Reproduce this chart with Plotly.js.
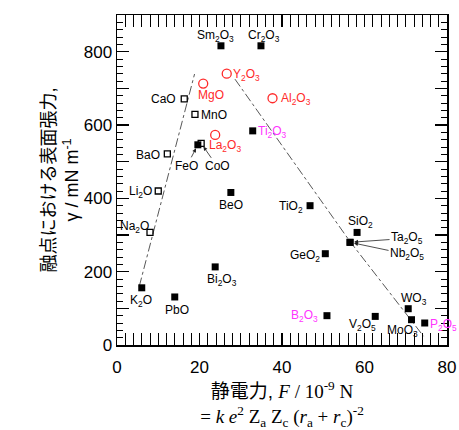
<!DOCTYPE html>
<html>
<head>
<meta charset="utf-8">
<script src="https://cdn.plot.ly/plotly-3.0.1.min.js"></script>
<style>html,body{margin:0;padding:0;background:#fff;}#chart{width:459px;height:430px;}</style>
</head>
<body>
<div id="chart"></div>
<script>
// ---- data ----
const oxides = ['Sm2O3','Cr2O3','Y2O3','MgO','CaO','MnO','Al2O3','Ti2O3','La2O3','FeO','CoO','BaO','Li2O','BeO','Na2O','TiO2','SiO2','Ta2O5','Nb2O5','GeO2','Bi2O3','K2O','PbO','B2O3','V2O5','WO3','MoO3','P2O5'];
const forceF = [25.2,34.9,26.6,20.9,16.3,18.9,37.7,32.9,23.8,19.6,20.4,12.2,10.0,27.6,8.0,46.8,58.2,56.5,56.5,50.5,23.8,6.0,14.0,50.9,62.6,70.6,71.4,74.6];
const gamma  = [816,816,740,713,671,629,673,584,573,546,550,521,420,416,307,380,307,280,280,249,213,156,131,80,78,99,69,60];
const kind   = ['filled','filled','circle','circle','open','open','circle','filled','circle','filled','open','open','open','filled','open','filled','filled','filled','filled','filled','filled','filled','filled','filled','filled','filled','filled','filled'];
const redLabels = ['Y2O3','MgO','Al2O3','La2O3'];
const magentaLabels = ['Ti2O3','B2O3','P2O5'];
const arrowLabels = ['FeO','CoO','Ta2O5','Nb2O5'];
// guide lines (dash-dot)
const leftLineF = [5.4, 18.8];
const leftLineG = [160, 739];
const rightLineF = [28.6, 56.5, 74.3];
const rightLineG = [725, 282, 24];
// axis ticks
const yTickVals = [0,200,400,600,800];
const xTickVals = [0,20,40,60,80];

// ---- label placement (screen px offsets from point centre) ----
const labelOffset = {
  'Sm2O3':[-5,-10],'Cr2O3':[3,-10],'Y2O3':[20,1],'MgO':[8,11],'CaO':[-21,0],'MnO':[19,1],
  'Al2O3':[23,1],'Ti2O3':[20,1],'La2O3':[10,11],'FeO':[-11,21],'CoO':[16,23],'BaO':[-19,1],
  'Li2O':[-18,1],'BeO':[0,13],'Na2O':[-16,-5],'TiO2':[-19,1],'SiO2':[3,-10],'Ta2O5':[57,-4],
  'Nb2O5':[57,12],'GeO2':[-20,2],'Bi2O3':[7,13],'K2O':[-1,13],'PbO':[2,13],'B2O3':[-22,0],
  'V2O5':[-13,9],'WO3':[6,-10],'MoO3':[-9,11],'P2O5':[19,2]
};

const RED = '#ff2a2a', MAG = '#ff33ff';
const chem = s => s.replace(/(\d)/g, '<sub>$1</sub>');

function pick(k) {
  const xs = [], ys = [], ns = [];
  kind.forEach((t, i) => { if (t === k) { xs.push(forceF[i]); ys.push(gamma[i]); ns.push(oxides[i]); } });
  return {xs, ys, ns};
}
const f = pick('filled'), o = pick('open'), c = pick('circle');

const lineStyle = {color: '#444', width: 0.9, dash: 'dashdot'};
const traces = [
  {x: leftLineF, y: leftLineG, mode: 'lines', line: lineStyle, hoverinfo: 'skip', showlegend: false},
  {x: rightLineF, y: rightLineG, mode: 'lines', line: lineStyle, hoverinfo: 'skip', showlegend: false},
  {x: f.xs, y: f.ys, text: f.ns, mode: 'markers', showlegend: false,
   marker: {symbol: 'square', size: 7, color: '#000'}},
  {x: o.xs, y: o.ys, text: o.ns, mode: 'markers', showlegend: false,
   marker: {symbol: 'square-open', size: 6, color: '#000', line: {width: 1.3}}},
  {x: c.xs, y: c.ys, text: c.ns, mode: 'markers', showlegend: false,
   marker: {symbol: 'circle-open', size: 9, color: RED, line: {width: 1.3}}}
];

const labelFont = {family: 'Liberation Sans, Arial, sans-serif', size: 12, color: '#000'};
const annotations = oxides.map((n, i) => {
  const [dx, dy] = labelOffset[n];
  let col = '#000';
  if (redLabels.includes(n)) col = RED;
  if (magentaLabels.includes(n)) col = MAG;
  const a = {x: forceF[i], y: gamma[i], xref: 'x', yref: 'y', text: chem(n),
             font: Object.assign({}, labelFont, {color: col})};
  if (arrowLabels.includes(n)) {
    Object.assign(a, {showarrow: true, ax: dx, ay: dy, arrowhead: 2, arrowsize: 1,
      arrowwidth: 0.8, arrowcolor: '#222', standoff: 4});
  } else {
    Object.assign(a, {showarrow: false, xshift: dx, yshift: -dy});
  }
  return a;
});

const axisCommon = {
  showgrid: false, zeroline: false, showline: true, linecolor: '#000', linewidth: 1.5,
  mirror: 'allticks', ticks: 'inside', ticklen: 12, tickwidth: 1.2, tickcolor: '#000',
  tickfont: {family: 'Liberation Sans, Arial, sans-serif', size: 17, color: '#000'}
};

const layout = {
  width: 459, height: 430,
  margin: {l: 117, r: 12, t: 15, b: 84.5},
  paper_bgcolor: '#fff', plot_bgcolor: '#fff',
  showlegend: false,
  xaxis: Object.assign({}, axisCommon, {
    range: [0, 80], tickmode: 'array', tickvals: xTickVals, ticklabelstandoff: 6,
    minor: {dtick: 2, ticklen: 6, tickwidth: 1, tickcolor: '#000', ticks: 'inside'},
    title: {
      text: '静電力, <span style="font-family:Liberation Serif"><i>F</i> / 10<sup>-9</sup> N</span><br>' +
            '<span style="font-family:Liberation Serif">= <i>k e</i><sup>2</sup> Z<sub>a</sub> Z<sub>c</sub> (<i>r</i><sub>a</sub> + <i>r</i><sub>c</sub>)<sup>-2</sup></span>',
      font: {family: 'Liberation Sans, Noto Sans CJK JP, sans-serif', size: 19, color: '#000'},
      standoff: 12
    }
  }),
  yaxis: Object.assign({}, axisCommon, {
    range: [0, 900], tickmode: 'array', tickvals: yTickVals,
    minor: {dtick: 20, ticklen: 6, tickwidth: 1, tickcolor: '#000', ticks: 'inside'},
    title: {
      text: '融点における表面張力,<br>γ / mN m<sup>-1</sup>',
      font: {family: 'Liberation Sans, Noto Sans CJK JP, sans-serif', size: 18, color: '#000'},
      standoff: 0
    }
  }),
  // unlabelled long ticks at the odd hundreds
  yaxis2: {
    overlaying: 'y', side: 'left', range: [0, 900], tick0: 100, dtick: 200,
    showgrid: false, zeroline: false, showline: false, showticklabels: false,
    mirror: 'allticks', ticks: 'inside', ticklen: 12, tickwidth: 1.2, tickcolor: '#000'
  },
  annotations: annotations
};
// invisible trace so that yaxis2 is drawn
traces.push({x: [0], y: [0], yaxis: 'y2', mode: 'markers', marker: {opacity: 0}, hoverinfo: 'skip', showlegend: false});

Plotly.newPlot('chart', traces, layout, {displayModeBar: false, staticPlot: true});
</script>
</body>
</html>
